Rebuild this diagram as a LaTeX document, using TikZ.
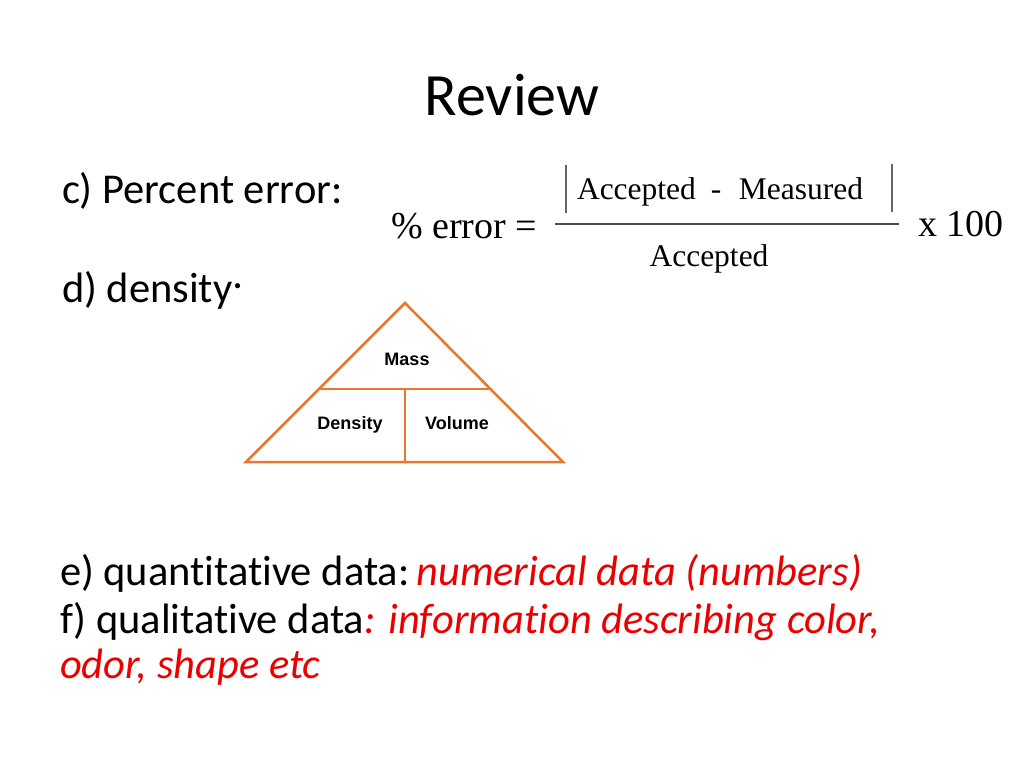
\documentclass[tikz,border=0pt]{standalone}
\usepackage{fontspec}
\setmainfont{Carlito}[Ligatures={NoCommon}]
\newfontfamily\timesf{Liberation Serif}
\newfontfamily\arialf{Liberation Sans}
\definecolor{tri}{RGB}{232,120,45}
\definecolor{redtxt}{RGB}{235,0,0}
\tikzset{
  txt/.style={inner sep=0pt, outer sep=0pt, anchor=base west},
  body/.style={txt, font=\fontsize{42.5}{52}\selectfont},
  bodyb/.style={txt, font=\fontsize{42.5}{50}\selectfont},
  frm/.style={inner sep=0pt, outer sep=0pt, font=\timesf\fontsize{31.5}{36}\selectfont},
  frmb/.style={inner sep=0pt, outer sep=0pt, font=\timesf\fontsize{38}{44}\selectfont},
  trilab/.style={inner sep=0pt, font=\arialf\bfseries\fontsize{18}{22}\selectfont},
  triline/.style={draw=tri, line width=2.5pt, line join=miter},
  bar/.style={draw=black!60, line width=2pt},
}
\begin{document}
\begin{tikzpicture}[x=1pt,y=-1pt]
\useasboundingbox[fill=white] (0,0) rectangle (1024,768);
% title
\node[inner sep=0pt, anchor=base, font=\fontsize{60}{70}\selectfont] (title) at (512,115) {Review};
% c) and d)
\node[body] (c) at (62,203) {c) Percent error:};
\node[body] (d) at (62,302) {d) density:};
% formula
\node[frmb, anchor=base west] (pct) at (391,238) {\% error =};
\coordinate (fl) at (555,224);
\coordinate (fr) at (899,224);
\draw[draw=black!70, line width=1.8pt] (fl) -- (fr);
\coordinate (b1t) at (566,165); \coordinate (b1b) at (566,213);
\coordinate (b2t) at (892,164); \coordinate (b2b) at (892,212);
\draw[bar] (b1t) -- (b1b);
\draw[bar] (b2t) -- (b2b);
\node[frm, anchor=base west] (acc) at (577,199) {Accepted};
\node[frm, anchor=base] (minus) at (716,199) {-};
\node[frm, anchor=base east] (meas) at (863,199) {Measured};
\node[frm, anchor=base] (den) at (709,266) {Accepted};
\node[frmb, anchor=base west] (x100) at (918,236) {x 100};
% triangle image background
\fill[white] (228,291) rectangle (572,470);
\coordinate (apex) at (405,303);
\coordinate (bl) at (246,462);
\coordinate (br) at (563,462);
\coordinate (ml) at (318,389);
\coordinate (mr) at (492,389);
\coordinate (mm) at (405,389);
\coordinate (bm) at (405,462);
\draw[triline] (apex) -- (br) -- (bl) -- cycle;
\draw[triline] (ml) -- (mr);
\draw[triline] (mm) -- (bm);
\node[trilab, anchor=base] (mass) at (407,365) {Mass};
\node[trilab, anchor=base] (dens) at (350,429) {Density};
\node[trilab, anchor=base] (vol) at (457,429) {Volume};
% e) f)
\node[bodyb] (e) at (60,585) {e) quantitative data:\hspace{0.16em}\textcolor{redtxt}{\itshape numerical data (numbers)}};
\node[bodyb] (f) at (60,633) {f) qualitative data\textcolor{redtxt}{\itshape : information describing color,}};
\node[bodyb, text=redtxt, font=\fontsize{42.5}{50}\selectfont\itshape] (g) at (60,678) {odor, shape etc};
\end{tikzpicture}
\end{document}
